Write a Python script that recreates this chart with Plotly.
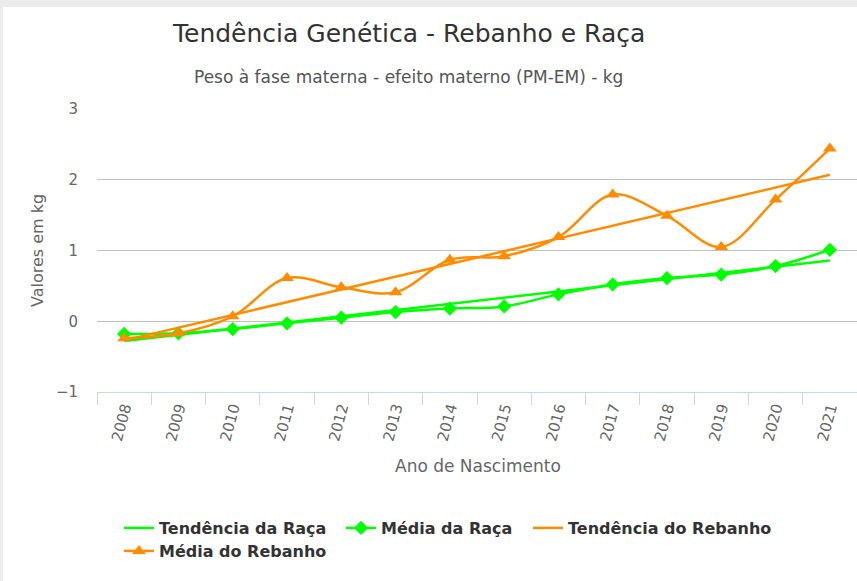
import plotly.graph_objects as go

years = ["2008", "2009", "2010", "2011", "2012", "2013", "2014",
         "2015", "2016", "2017", "2018", "2019", "2020", "2021"]
media_raca = [-0.18, -0.17, -0.11, -0.03, 0.05, 0.13, 0.18,
              0.21, 0.38, 0.52, 0.61, 0.66, 0.78, 1.01]
media_rebanho = [-0.24, -0.17, 0.07, 0.61, 0.48, 0.41, 0.87,
                 0.92, 1.19, 1.79, 1.49, 1.05, 1.72, 2.44]
trend_years = ["2008", "2021"]
tend_raca = [-0.28, 0.86]
tend_rebanho = [-0.27, 2.07]

title_text = "Tendência Genética - Rebanho e Raça"
subtitle_text = "Peso à fase materna - efeito materno (PM-EM) - kg"
y_title = "Valores em kg"
x_title = "Ano de Nascimento"

GREEN = "#00ff00"
ORANGE = "#ff8c00"
FONT = "DejaVu Sans"

W, H = 857, 581
L, R_, T, B = 97, 857, 109, 392  # plot area in px


def px(x):
    return (x - L) / (R_ - L)


def py(y):
    return (B - y) / (B - T)


fig = go.Figure()
fig.add_trace(go.Scatter(x=trend_years, y=tend_raca, name="Tendência da Raça",
                         mode="lines", line=dict(color=GREEN, width=2.5),
                         legend="legend"))
fig.add_trace(go.Scatter(x=years, y=media_raca, name="Média da Raça",
                         mode="lines+markers",
                         line=dict(color=GREEN, width=2.5, shape="spline"),
                         marker=dict(symbol="diamond", size=11, color=GREEN),
                         legend="legend2"))
fig.add_trace(go.Scatter(x=trend_years, y=tend_rebanho, name="Tendência do Rebanho",
                         mode="lines", line=dict(color=ORANGE, width=2.5),
                         legend="legend3"))
fig.add_trace(go.Scatter(x=years, y=media_rebanho, name="Média do Rebanho",
                         mode="lines+markers",
                         line=dict(color=ORANGE, width=2.5, shape="spline"),
                         marker=dict(symbol="triangle-up", size=12, color=ORANGE),
                         legend="legend4"))

annotations = [
    dict(text=title_text, x=px(408), y=py(34), xref="paper", yref="paper",
         xanchor="center", yanchor="middle", showarrow=False,
         font=dict(family=FONT, size=25, color="#333333")),
    dict(text=subtitle_text, x=px(408), y=py(77), xref="paper", yref="paper",
         xanchor="center", yanchor="middle", showarrow=False,
         font=dict(family=FONT, size=17, color="#555555")),
    dict(text=y_title, x=px(37), y=py(251), xref="paper", yref="paper",
         xanchor="center", yanchor="middle", showarrow=False, textangle=-90,
         font=dict(family=FONT, size=16, color="#666666")),
    dict(text=x_title, x=px(478), y=py(466), xref="paper", yref="paper",
         xanchor="center", yanchor="middle", showarrow=False,
         font=dict(family=FONT, size=17, color="#666666")),
]

shapes = [
    dict(type="rect", xref="paper", yref="paper", layer="below",
         x0=px(3), x1=px(W + 5), y0=py(H + 5), y1=py(7),
         fillcolor="white", line=dict(width=0)),
]


def leg(xpix, ypix):
    return dict(orientation="h", x=px(xpix), y=py(ypix), xanchor="left",
                yanchor="top", xref="paper", yref="paper",
                font=dict(family=FONT, size=16, color="#333333", weight="bold"),
                bgcolor="rgba(0,0,0,0)", itemwidth=30)


fig.update_layout(
    width=W, height=H,
    margin=dict(l=L, r=W - R_, t=T, b=H - B, pad=0),
    paper_bgcolor="#ececec",
    plot_bgcolor="white",
    font=dict(family=FONT, color="#666666"),
    annotations=annotations,
    shapes=shapes,
    showlegend=True,
    legend=leg(119, 511),
    legend2=leg(341, 511),
    legend3=leg(528, 511),
    legend4=leg(119, 534),
    xaxis=dict(type="category", categoryorder="array", categoryarray=years,
               range=[-0.5, 13.5], tickangle=-75, tickson="boundaries",
               ticks="outside", ticklen=12, tickcolor="#ccd6eb", tickwidth=1,
               showline=True, linecolor="#ccd6eb", linewidth=1,
               showgrid=False, zeroline=False,
               tickfont=dict(family=FONT, size=15, color="#666666")),
    yaxis=dict(range=[-1, 3], tickvals=[-1, 0, 1, 2, 3],
               showgrid=True, gridcolor="#c0c0c0", gridwidth=1,
               zeroline=False, showline=False, ticks="",
               ticklabelstandoff=18,
               tickfont=dict(family=FONT, size=15, color="#666666")),
)

fig.write_html("out.html", config={"displayModeBar": False},
               post_script="document.body.style.margin='0';document.body.style.padding='0';")
